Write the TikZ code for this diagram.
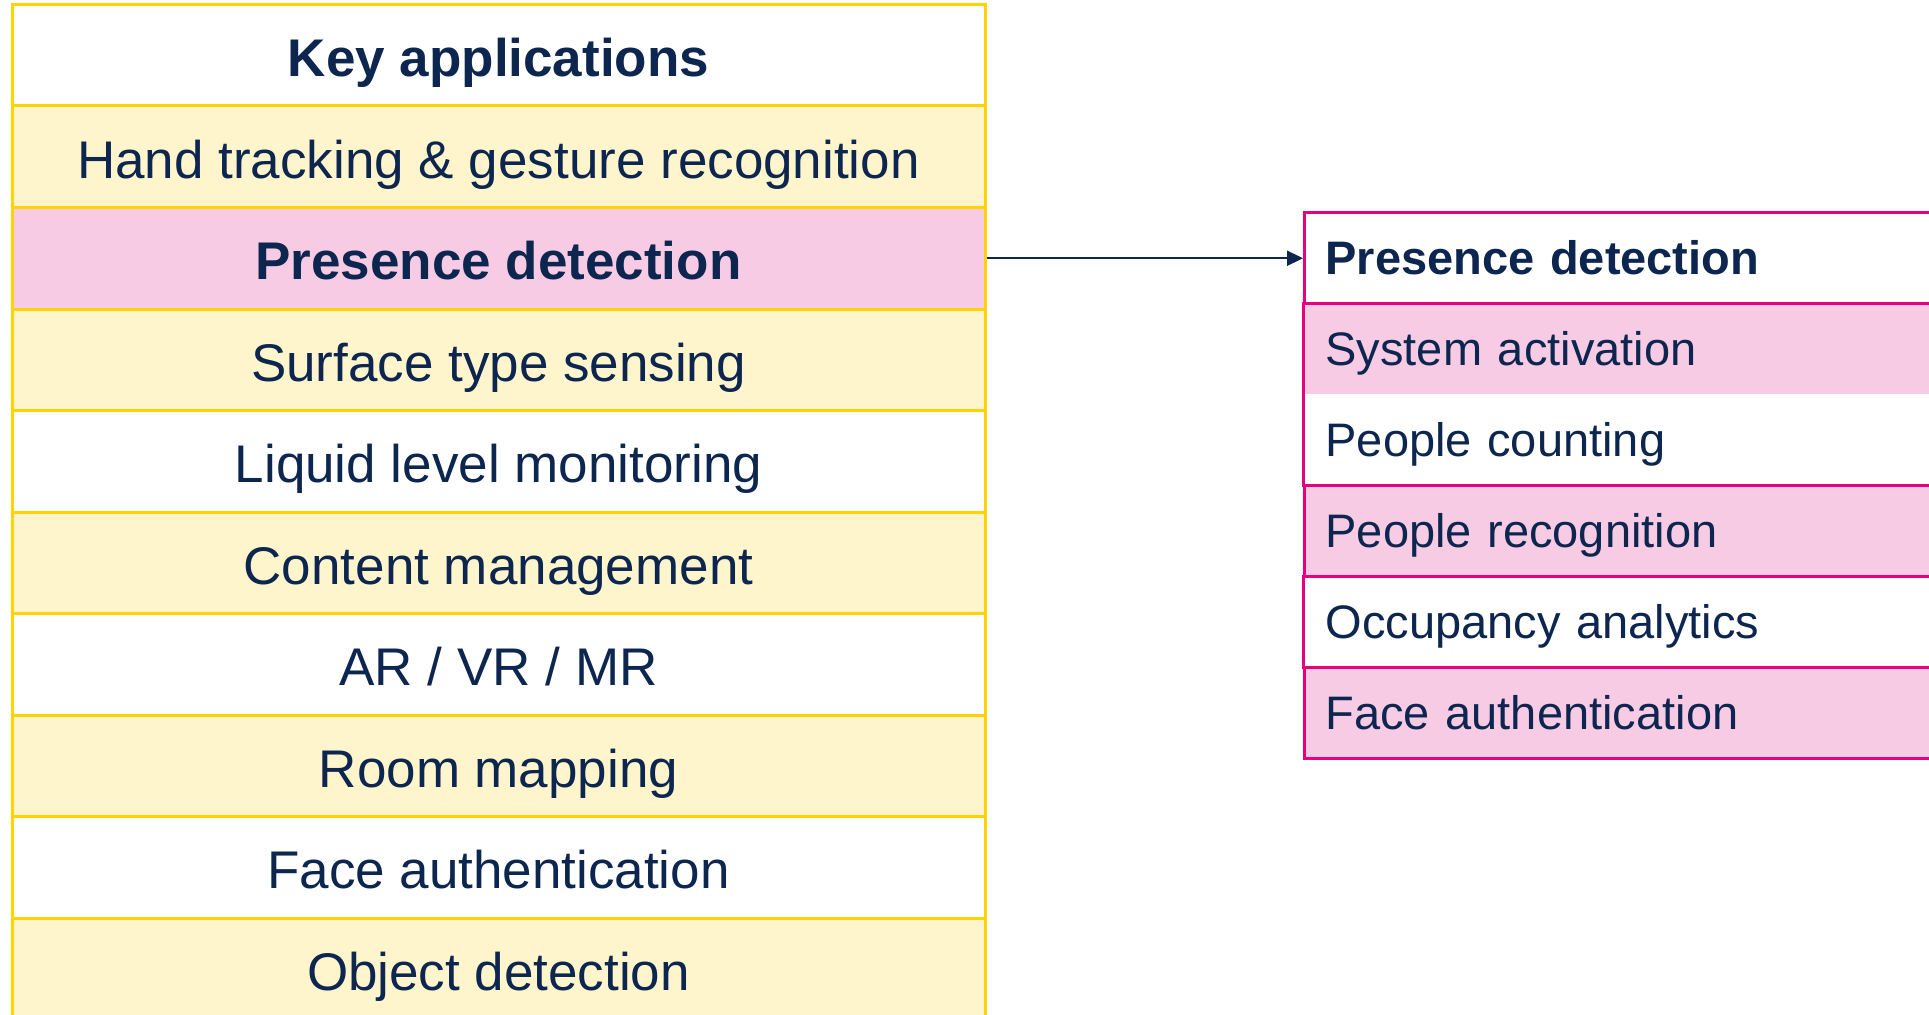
\documentclass[tikz,border=0pt]{standalone}
\usepackage{fontspec}
\setmainfont{Liberation Sans}
\usetikzlibrary{arrows.meta}
\definecolor{gold}{HTML}{FFD200}
\definecolor{lightylw}{HTML}{FFF5CC}
\definecolor{pinkfill}{HTML}{F8CBE4}
\definecolor{magentaline}{HTML}{E6007E}
\definecolor{navytext}{HTML}{0C2650}
\tikzset{
  lrow/.style={rectangle, minimum width=973pt, minimum height=101.5pt, inner sep=0pt,
    draw=gold, line width=3pt, text=navytext, font=\fontsize{53}{60}\selectfont,
    text height=44pt, text depth=1pt},
  lhead/.style={lrow, font=\fontsize{53}{60}\selectfont\bfseries, fill=white},
  ly/.style={lrow, fill=lightylw},
  lw/.style={lrow, fill=white},
  lp/.style={lrow, fill=pinkfill},
  rrow/.style={rectangle, anchor=north west, text width=638pt, inner xsep=21pt, inner ysep=0pt,
    minimum height=91pt, align=left, line width=3pt, text=navytext,
    font=\fontsize{47}{54}\selectfont, text height=35pt, text depth=2pt},
  rhead/.style={rrow, draw=magentaline, fill=white, font=\fontsize{47}{54}\selectfont\bfseries},
  rp/.style={rrow, draw=magentaline, fill=pinkfill},
  rpf/.style={rrow, fill=pinkfill},
  rw/.style={rrow, fill=white},
  rline/.style={draw=magentaline, line width=3pt},
  conn/.style={draw=navytext, line width=2.2pt, -{Triangle[length=16pt,width=15pt]}},
}
\begin{document}
\begin{tikzpicture}[x=1pt,y=-1pt]
\useasboundingbox (0,0) rectangle (1929,1014);
\clip (0,0) rectangle (1929,1014);
\fill[white] (0,0) rectangle (1929,1014);
% left table
\node[lhead] (l0) at (498.5,55.5) {Key applications};
\node[ly] (l1) at (498.5,156.75) {Hand tracking \& gesture recognition};
\node[lp, font=\fontsize{53}{60}\selectfont\bfseries] (l2) at (498.5,258.25) {Presence detection};
\node[ly] (l3) at (498.5,359.75) {Surface type sensing};
\node[lw] (l4) at (498.5,461.25) {Liquid level monitoring};
\node[ly] (l5) at (498.5,562.75) {Content management};
\node[lw] (l6) at (498.5,664.25) {AR / VR / MR};
\node[ly] (l7) at (498.5,765.75) {Room mapping};
\node[lw] (l8) at (498.5,867.25) {Face authentication};
\node[ly] (l9) at (498.5,968.75) {Object detection};
% right table
\node[rpf] (r1) at (1303,301.5) {System activation};
\node[rw] (r2) at (1303,392.5) {People counting};
\node[rw] (r4) at (1303,574.5) {Occupancy analytics};
\node[rhead] (r0) at (1303,210.5) {Presence detection};
\node[rp] (r3) at (1303,483.5) {People recognition};
\node[rp] (r5) at (1303,665.5) {Face authentication};
\draw[rline] (r1.north west) -- (r2.south west);
\draw[rline] (r4.north west) -- (r4.south west);
% connector
\draw[conn] (l2.east) -- (l2.east -| r0.west);
\end{tikzpicture}
\end{document}
